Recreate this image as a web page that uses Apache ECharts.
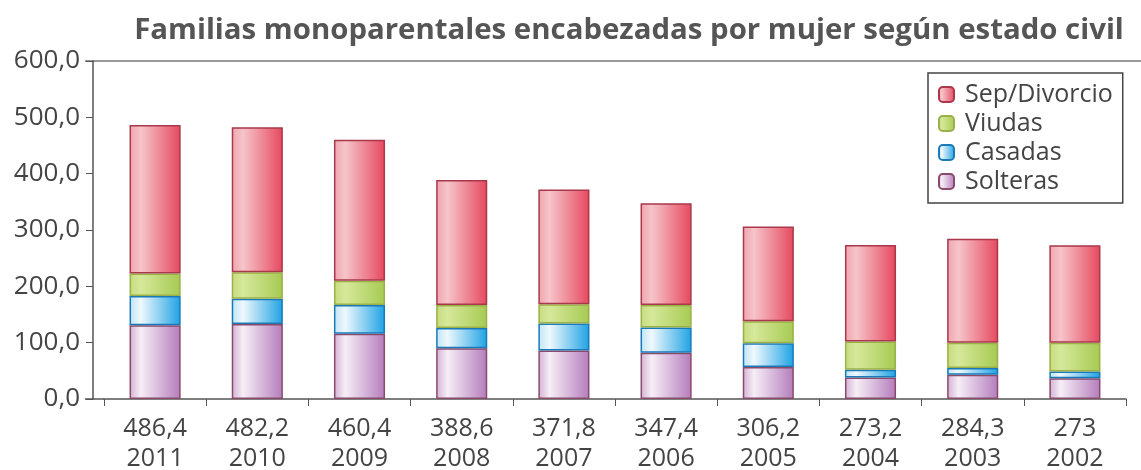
<!DOCTYPE html>
<html>
<head>
<meta charset="utf-8">
<script src="https://cdn.jsdelivr.net/npm/echarts@6/dist/echarts.min.js"></script>
<style>
  html, body { margin: 0; padding: 0; background: #fff; }
  #chart { width: 1141px; height: 470px; }
</style>
</head>
<body>
<div id="chart"></div>
<script>
  // data (miles de hogares)
  var years = ['2011', '2010', '2009', '2008', '2007', '2006', '2005', '2004', '2003', '2002']
  var totals = ['486,4', '482,2', '460,4', '388,6', '371,8', '347,4', '306,2', '273,2', '284,3', '273']
  var solteras = [131, 133, 116, 90, 86, 82, 57, 38, 43, 37]
  var casadas = [52, 45, 51, 36, 48, 45, 42, 14, 12, 12]
  var viudas = [40, 47, 43, 41, 34, 40, 39, 50, 45, 51]
  var sepDivorcio = [263.4, 257.2, 250.4, 221.6, 203.8, 180.4, 168.2, 171.2, 184.3, 173]

  var font = '"Open Sans", "Noto Sans", sans-serif'

  function grad(edge, light, deep) {
    return new echarts.graphic.LinearGradient(0, 0, 1, 0, [
      { offset: 0, color: edge },
      { offset: 0.22, color: light },
      { offset: 1, color: deep }
    ])
  }

  var categories = years.map(function(y, i) { return totals[i] + '\n' + y })

  function barSeries(name, data, fill, border) {
    return {
      name: name,
      type: 'bar',
      stack: 'total',
      barWidth: '50%',
      data: data,
      itemStyle: {
        color: fill,
        borderColor: border,
        borderWidth: 1.5
      }
    }
  }

  var chart = echarts.init(document.getElementById('chart'))
  chart.setOption({
    animation: false,
    title: {
      text: 'Familias monoparentales encabezadas por mujer según estado civil',
      left: 624,
      textAlign: 'center',
      top: 11,
      textStyle: {
        fontFamily: font,
        fontWeight: 'bold',
        fontSize: 29.4,
        color: '#555'
      }
    },
    legend: {
      orient: 'vertical',
      left: 928,
      top: 73,
      padding: [9, 10, 9, 10],
      itemGap: 4,
      itemWidth: 15,
      itemHeight: 15,
      borderColor: '#444',
      borderWidth: 1.5,
      data: ['Sep/Divorcio', 'Viudas', 'Casadas', 'Solteras'],
      textStyle: {
        fontFamily: font,
        fontSize: 25,
        color: '#444',
        padding: [0, 0, 0, 6]
      }
    },
    grid: {
      left: 104,
      right: 15,
      top: 61,
      bottom: 71,
      outerBoundsMode: 'none'
    },
    xAxis: {
      type: 'category',
      data: categories,
      axisLine: { lineStyle: { color: '#555', width: 1.5 } },
      axisTick: { show: true, interval: 0, length: 7, lineStyle: { color: '#555' } },
      axisLabel: {
        interval: 0,
        margin: 15,
        fontFamily: font,
        fontSize: 25,
        lineHeight: 30,
        color: '#444'
      }
    },
    yAxis: {
      type: 'value',
      min: 0,
      max: 600,
      interval: 100,
      offset: 11,
      axisLine: { show: true, lineStyle: { color: '#555', width: 1.5 } },
      axisTick: { show: true, length: 7, lineStyle: { color: '#555' } },
      splitLine: { show: false },
      axisLabel: {
        margin: 13,
        fontFamily: font,
        fontSize: 26,
        color: '#444',
        formatter: function(v) { return v.toFixed(1).replace('.', ',') }
      }
    },
    graphic: [
      // top frame line and baseline extension
      { type: 'line', shape: { x1: 85, y1: 61, x2: 1141, y2: 61 }, style: { stroke: '#777', lineWidth: 1.5 } },
      { type: 'line', shape: { x1: 85, y1: 399, x2: 104, y2: 399 }, style: { stroke: '#555', lineWidth: 1.5 } }
    ],
    series: [
      barSeries('Solteras', solteras, grad('#d2b0d4', '#f6eef6', '#b47cbc'), '#8a4a6a'),
      barSeries('Casadas', casadas, grad('#bfe4f6', '#eef8fd', '#1ea2e4'), '#1a7ab8'),
      barSeries('Viudas', viudas, grad('#c6dc7e', '#d6e89a', '#a6ca52'), '#9ab048'),
      barSeries('Sep/Divorcio', sepDivorcio, grad('#f0a4ae', '#f6c4ca', '#e6485e'), '#a8384a')
    ]
  })
</script>
</body>
</html>
